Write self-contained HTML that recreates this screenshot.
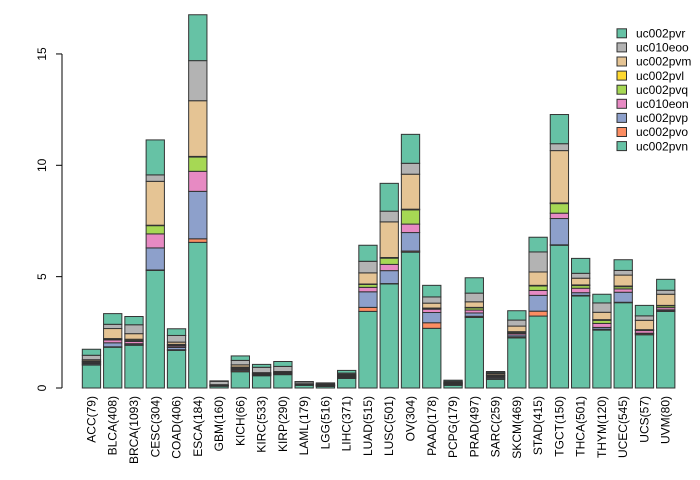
<!DOCTYPE html>
<html><head><meta charset="utf-8"><style>
body{margin:0;background:#fff;}
svg{display:block;font-family:"Liberation Sans",sans-serif;}
</style></head><body>
<svg id="chart" width="700" height="480"></svg>
<script>
const categories=["ACC(79)","BLCA(408)","BRCA(1093)","CESC(304)","COAD(406)","ESCA(184)","GBM(160)","KICH(66)","KIRC(533)","KIRP(290)","LAML(179)","LGG(516)","LIHC(371)","LUAD(515)","LUSC(501)","OV(304)","PAAD(178)","PCPG(179)","PRAD(497)","SARC(259)","SKCM(469)","STAD(415)","TGCT(150)","THCA(501)","THYM(120)","UCEC(545)","UCS(57)","UVM(80)"];
const seriesNames=["uc002pvn","uc002pvo","uc002pvp","uc010eon","uc002pvq","uc002pvl","uc002pvm","uc010eoo","uc002pvr"];
const seriesColors=["#66c2a5","#fc8d62","#8da0cb","#e78ac3","#a6d854","#ffd92f","#e5c494","#b3b3b3","#66c2a5"];
const pvn=[1.03,1.83,1.92,5.28,1.69,6.54,0.08,0.73,0.55,0.6,0.12,0.07,0.43,3.44,4.67,6.1,2.68,0.12,3.17,0.39,2.25,3.23,6.41,4.13,2.6,3.83,2.39,3.44];
const pvo=[0.02,0.02,0.02,0.02,0.03,0.16,0.01,0.05,0.02,0.02,0.01,0.02,0.03,0.18,0.02,0.05,0.25,0.02,0.05,0.03,0.05,0.22,0.02,0.03,0.04,0.02,0.05,0.02];
const pvp=[0.05,0.18,0.05,0.99,0.1,2.13,0.01,0.05,0.03,0.03,0.01,0.02,0.03,0.7,0.58,0.83,0.46,0.03,0.15,0.05,0.08,0.71,1.18,0.12,0.08,0.45,0.02,0.05];
const eon=[0.05,0.13,0.1,0.63,0.06,0.9,0.01,0.05,0.02,0.02,0.01,0.01,0.03,0.2,0.28,0.38,0.15,0.02,0.13,0.05,0.07,0.22,0.24,0.2,0.18,0.15,0.12,0.1];
const pvq=[0.03,0.03,0.05,0.37,0.04,0.64,0.01,0.03,0.02,0.02,0.01,0.01,0.03,0.13,0.28,0.64,0.03,0.02,0.1,0.04,0.05,0.2,0.43,0.12,0.14,0.1,0.02,0.08];
const pvl=[0.03,0.03,0.05,0.02,0.04,0.03,0.01,0.03,0.02,0.02,0.01,0.01,0.03,0.02,0.03,0.03,0.02,0.02,0.02,0.03,0.03,0.03,0.03,0.03,0.03,0.03,0.02,0.02];
const pvm=[0.06,0.45,0.25,1.97,0.1,2.5,0.02,0.1,0.03,0.03,0.02,0.02,0.04,0.5,1.6,1.57,0.22,0.02,0.25,0.06,0.25,0.6,2.35,0.3,0.33,0.49,0.42,0.5];
const eoo=[0.2,0.19,0.4,0.29,0.3,1.8,0.15,0.2,0.24,0.23,0.08,0.05,0.05,0.52,0.48,0.49,0.28,0.05,0.39,0.04,0.27,0.9,0.31,0.22,0.42,0.21,0.2,0.18];
const pvr=[0.27,0.48,0.37,1.57,0.3,2.06,0.02,0.2,0.13,0.22,0.02,0.02,0.12,0.72,1.25,1.3,0.52,0.05,0.69,0.05,0.42,0.66,1.31,0.67,0.39,0.48,0.47,0.49];
const seriesValues=[pvn,pvo,pvp,eon,pvq,pvl,pvm,eoo,pvr];
const yTicks=[0,5,10,15];

const NS="http://www.w3.org/2000/svg";
const svg=document.getElementById('chart');
function mk(t,a,p){const e=document.createElementNS(NS,t);for(const k in a)e.setAttribute(k,a[k]);(p||svg).appendChild(e);return e;}
const y0=388, pxPerUnit=22.27;
function yScale(v){return y0-v*pxPerUnit;}
const pitch=21.27, firstLeft=82.3, barW=18.3;
function xLeft(i){return firstLeft+i*pitch;}

// y axis
const ax=mk('g',{});


mk('line',{x1:62,x2:62,y1:yScale(yTicks[0]),y2:yScale(yTicks[yTicks.length-1]),stroke:'#000'},ax);
yTicks.forEach(t=>{
  const y=yScale(t);
  mk('line',{x1:56,x2:62,y1:y,y2:y,stroke:'#000'},ax);
  const tx=mk('text',{x:46,y:y,'font-size':12,'text-anchor':'middle',transform:`rotate(-90 46 ${y})`,fill:'#000'},ax);
  tx.textContent=t;
  
  
});

// bars
categories.forEach((c,i)=>{
  const g=mk('g',{});
  
  
  let cum=0;
  seriesValues.forEach((s,k)=>{
    const v=s[i];
    const yt=yScale(cum+v), yb=yScale(cum);
    const r=mk('rect',{x:xLeft(i),y:yt,width:barW,height:Math.max(yb-yt,0),fill:seriesColors[k],stroke:'#333','stroke-width':1},g);
    
    
    cum+=v;
  });
  const cx=xLeft(i)+barW/2+4;
  const lt=mk('text',{x:cx,y:396,'font-size':12,'text-anchor':'end',transform:`rotate(-90 ${cx} 396)`,fill:'#000'});
  lt.textContent=c;
  
  
});

// legend
const lg=mk('g',{});


for(let j=0;j<seriesNames.length;j++){
  const k=seriesNames.length-1-j;
  const cy=33.3+j*14.1;
  const e=mk('g',{},lg);
  
  
  mk('rect',{x:617,y:cy-4.5,width:9.5,height:9,fill:seriesColors[k],stroke:'#333'},e);
  const t=mk('text',{x:636,y:cy+4.2,'font-size':12,fill:'#000'},e);
  t.textContent=seriesNames[k];
}
</script>
</body></html>
